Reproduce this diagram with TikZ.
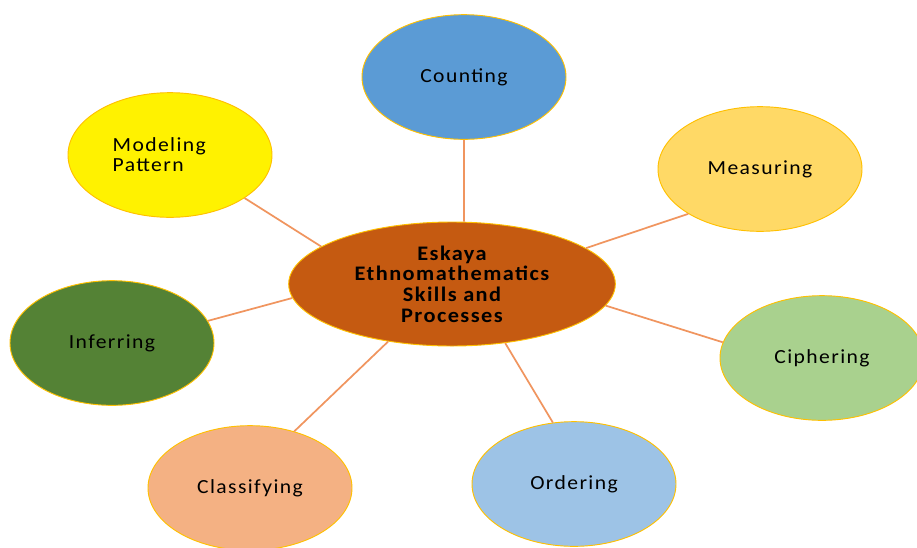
\documentclass[tikz,border=0pt]{standalone}
\usepackage{fontspec}
\setmainfont{Carlito}[FakeStretch=1.08, LetterSpace=7]
\usepackage{xcolor}
\usepackage{tikz}
\usetikzlibrary{shapes,positioning}
\definecolor{hubfill}{HTML}{C55A11}
\definecolor{rimgold}{HTML}{FFC000}
\definecolor{linkorange}{HTML}{F0955F}

\begin{document}
\begin{tikzpicture}[x=0.75pt,y=-0.75pt,
    skill/.style={ellipse, draw=rimgold, line width=0.7pt, minimum width=153pt, minimum height=93.5pt, inner sep=0pt, font=\fontsize{15}{15}\selectfont},
    hub/.style={skill, minimum width=245pt, minimum height=93pt, align=center, font=\bfseries\fontsize{15.5}{15.5}\selectfont},
    link/.style={draw=linkorange, line width=1.3pt}]
    \useasboundingbox (0,0) rectangle (917,547);

    \node[hub, fill=hubfill] (core) at (452,284) {Eskaya\\Ethnomathematics\\Skills and\\Processes};
    \node[skill, fill={rgb,255:red,91;green,155;blue,213}] (count) at (464,77) {Counting};
    \node[skill, fill=yellow, align=left, text width=86pt] (model) at (170,155) {Modeling\\Pattern};
    \node[skill, fill={rgb,255:red,255;green,217;blue,102}] (measure) at (760,169) {Measuring};
    \node[skill, fill={rgb,255:red,84;green,130;blue,53}] (infer) at (112,343) {Inferring};
    \node[skill, fill={rgb,255:red,169;green,209;blue,142}] (cipher) at (822,358) {Ciphering};
    \node[skill, fill={rgb,255:red,244;green,177;blue,131}] (classify) at (250,488) {Classifying};
    \node[skill, fill={rgb,255:red,157;green,195;blue,230}] (order) at (574,484) {Ordering};

    \draw[link] (count.south) -- (core.79);
    \draw[link] (model.-30) -- (core.164);
    \draw[link] (measure.212) -- (core.15);
    \draw[link] (infer.13) -- (core.185);
    \draw[link] (cipher.171) -- (core.-8);
    \draw[link] (classify.52) -- (core.222);
    \draw[link] (order.109) -- (core.-48);
\end{tikzpicture}
\end{document}
